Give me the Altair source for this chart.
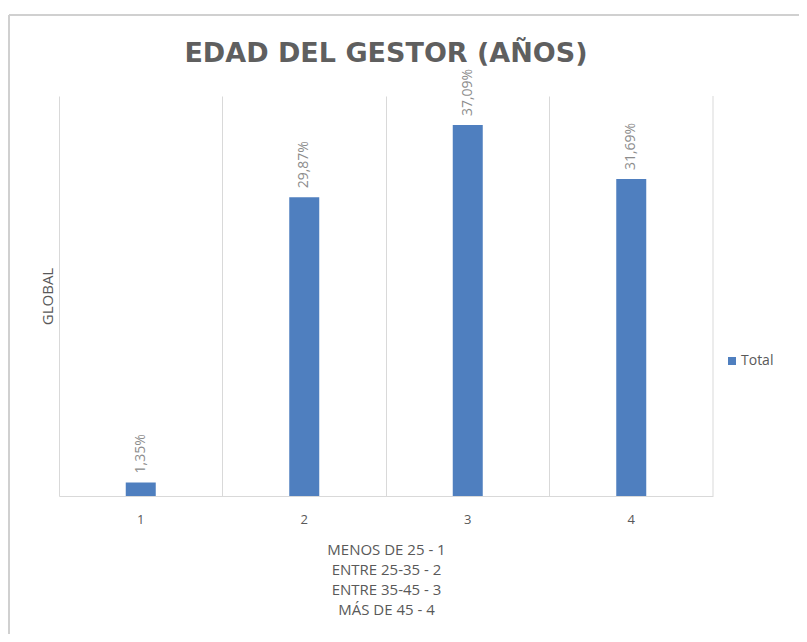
import altair as alt
import pandas as pd

categorias = ["1", "2", "3", "4"]
valores = [1.35, 29.87, 37.09, 31.69]
etiquetas = ["1,35%", "29,87%", "37,09%", "31,69%"]
serie = ["Total", "Total", "Total", "Total"]
titulo_x = ["MENOS DE 25 - 1", "ENTRE 25-35 - 2", "ENTRE 35-45 - 3", "MÁS DE 45 - 4"]

df = pd.DataFrame({"cat": categorias, "val": valores, "lab": etiquetas, "serie": serie})

W, H = 654, 400
FONT = "Open Sans"
GRAY = "#595959"
BLUE = "#4F7FBF"

x = alt.X(
    "cat:N",
    sort=categorias,
    scale=alt.Scale(paddingInner=0, paddingOuter=0),
    axis=alt.Axis(
        title=titulo_x,
        labelAngle=0,
        bandPosition=0,
        labelBound=False,
        labelOverlap=False,
        ticks=False,
        tickSize=0,
        labelPadding=17,
        labelFontSize=13,
        labelColor=GRAY,
        labelFont=FONT,
        titleFont=FONT,
        titleFontSize=15,
        titleFontWeight="normal",
        titleColor=GRAY,
        titleLineHeight=20,
        titlePadding=16,
        grid=True,
        gridColor="#d9d9d9",
        domainColor="#d9d9d9",
    ),
)
y = alt.Y(
    "val:Q",
    scale=alt.Scale(domain=[0, 40]),
    axis=alt.Axis(
        title="GLOBAL",
        labels=False,
        ticks=False,
        domain=False,
        grid=False,
        titleFont=FONT,
        titleFontSize=15,
        titleFontWeight="normal",
        titleColor=GRAY,
        titlePadding=4,
    ),
)

bars = alt.Chart(df).mark_bar(size=30).encode(
    x=x,
    y=y,
    color=alt.Color(
        "serie:N",
        scale=alt.Scale(range=[BLUE]),
        legend=alt.Legend(
            title=None,
            orient="none",
            legendX=666,
            legendY=258,
            symbolType="square",
            symbolSize=64,
            symbolStrokeWidth=0,
            labelOffset=2,
            labelFont=FONT,
            labelFontSize=14,
            labelColor=GRAY,
        ),
    ),
)

text = alt.Chart(df).mark_text(
    angle=270, align="left", baseline="middle", dx=9, fontSize=14, color="#8c8c8c", font=FONT
).encode(x=alt.X("cat:N", sort=categorias), y="val:Q", text="lab:N")

frame_data = pd.DataFrame({"k": [0]})
right_line = alt.Chart(frame_data).mark_rule(color="#d9d9d9").encode(
    x=alt.value(W), y=alt.value(0), y2=alt.value(H)
)
frame_top = alt.Chart(frame_data).mark_rule(color="#d0d0d0", strokeWidth=2).encode(
    x=alt.value(-50), x2=alt.value(745), y=alt.value(-81)
)
frame_left = alt.Chart(frame_data).mark_rule(color="#d0d0d0", strokeWidth=2).encode(
    x=alt.value(-50), y=alt.value(-81), y2=alt.value(560)
)

chart = alt.layer(right_line, bars, text, frame_top, frame_left).properties(
    width=W,
    height=H,
    autosize=alt.AutoSizeParams(type="none"),
    padding={"left": 51, "top": 88, "right": 86, "bottom": 138},
    title=alt.TitleParams(
        "EDAD DEL GESTOR (AÑOS)",
        font="DejaVu Sans",
        fontSize=27,
        fontWeight="bold",
        color="#5f5f5f",
        anchor="middle",
        frame="group",
        baseline="alphabetic",
        offset=28,
        dy=103,
    ),
).configure_view(stroke=None)

chart.save("out.html", embed_options={"renderer": "svg", "actions": False})
